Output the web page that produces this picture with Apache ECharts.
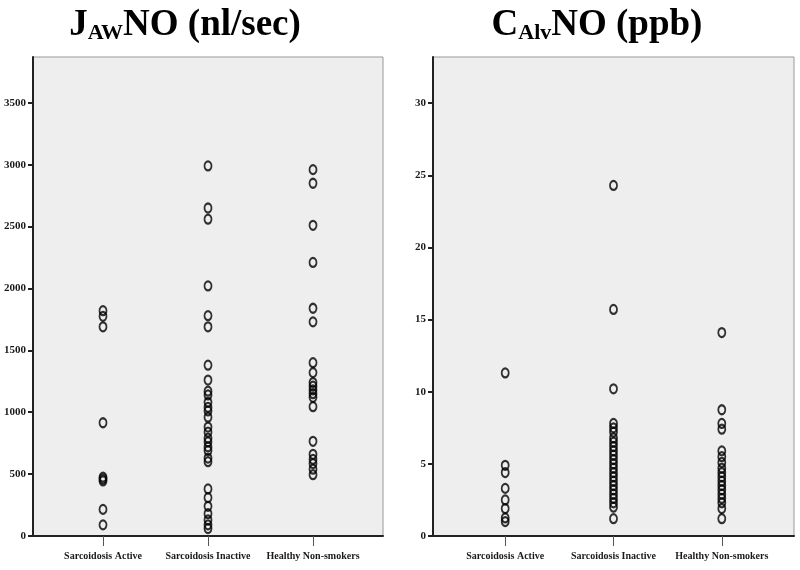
<!DOCTYPE html>
<html>
<head>
<meta charset="utf-8">
<script src="https://cdn.jsdelivr.net/npm/echarts@6/dist/echarts.min.js"></script>
<style>
html,body{margin:0;padding:0;background:#fff;}
#chart{width:800px;height:570px;}
</style>
</head>
<body>
<div id="chart"></div>
<script>
// ---------- data ----------
var categories = ['Sarcoidosis Active', 'Sarcoidosis Inactive', 'Healthy Non-smokers'];

var jawActive   = [1820, 1775, 1690, 915, 475, 460, 445, 215, 90];
var jawInactive = [2990, 2650, 2560, 2020, 1780, 1690, 1380, 1260, 1170, 1140, 1080, 1040, 1010, 960, 880, 840, 790, 760, 720, 690, 630, 600, 380, 310, 240, 180, 130, 90, 60];
var jawHealthy  = [2960, 2850, 2510, 2210, 1840, 1730, 1400, 1320, 1240, 1210, 1180, 1150, 1120, 1045, 765, 660, 620, 585, 540, 495];

var calvActive   = [11.3, 4.9, 4.4, 3.3, 2.5, 1.9, 1.25, 1.0];
var calvInactive = [24.3, 15.7, 10.2, 7.8, 7.5, 7.2, 6.8, 6.5, 6.2, 5.9, 5.6, 5.3, 5.0, 4.7, 4.4, 4.1, 3.8, 3.5, 3.2, 2.9, 2.6, 2.3, 2.0, 1.2];
var calvHealthy  = [14.1, 8.75, 7.8, 7.4, 5.9, 5.5, 5.1, 4.7, 4.4, 4.1, 3.8, 3.5, 3.2, 2.9, 2.6, 2.3, 1.9, 1.2];

var jawTicks  = [0, 500, 1000, 1500, 2000, 2500, 3000, 3500];
var calvTicks = [0, 5, 10, 15, 20, 25, 30];

// ---------- chart ----------
var FONT = 'Liberation Serif';
function pts(arr, idx) { return arr.map(function (v) { return [idx, v]; }); }

function xAxisFor(gi) {
  return {
    type: 'value', gridIndex: gi, min: 1/3, max: 11/3,
    splitLine: {show: false},
    axisLine: {show: true, onZero: false, lineStyle: {color: '#222', width: 2}},
    axisTick: {show: true, length: 10, customValues: [1, 2, 3], lineStyle: {color: '#555', width: 1}},
    axisLabel: {customValues: [1, 2, 3], margin: 15, color: '#1a1a1a', fontFamily: FONT, fontWeight: 'bold', fontSize: 10,
      formatter: function (v) { return categories[Math.round(v) - 1] || ''; }}
  };
}
function yAxisFor(gi, max, ticks) {
  return {
    type: 'value', gridIndex: gi, min: 0, max: max,
    splitLine: {show: false},
    axisLine: {show: true, onZero: false, lineStyle: {color: '#222', width: 2}},
    axisTick: {show: true, length: 5, customValues: ticks, lineStyle: {color: '#222', width: 2}},
    axisLabel: {customValues: ticks, margin: 7, color: '#1a1a1a', fontFamily: FONT, fontWeight: 'bold', fontSize: 11,
      formatter: function (v) { return String(v); }}
  };
}
function scat(gi, data) {
  return {
    type: 'scatter', xAxisIndex: gi, yAxisIndex: gi, data: data,
    symbol: 'circle', symbolSize: [7, 9],
    itemStyle: {color: 'rgba(0,0,0,0)', borderColor: '#000', borderWidth: 2},
    emphasis: {disabled: true}, silent: true
  };
}

var titleRich = {
  a: {fontFamily: FONT, fontWeight: 'bold', fontSize: 37, color: '#000', lineHeight: 44, verticalAlign: 'bottom'},
  b: {fontFamily: FONT, fontWeight: 'bold', fontSize: 22, color: '#000', lineHeight: 22, verticalAlign: 'bottom'}
};

var chart = echarts.init(document.getElementById('chart'), null, {renderer: 'canvas'});
chart.setOption({
  animation: false,
  backgroundColor: '#ffffff',
  title: [
    {text: '{a|J}{b|AW}{a|NO (nl/sec)}', left: 185, top: 0, textAlign: 'center', padding: 0, textStyle: {rich: titleRich}},
    {text: '{a|C}{b|Alv}{a|NO (ppb)}', left: 597, top: 0, textAlign: 'center', padding: 0, textStyle: {rich: titleRich}}
  ],
  grid: [
    {left: 33, top: 57, width: 350, bottom: 34, show: true, backgroundColor: '#eeeeee', borderColor: '#999', borderWidth: 1},
    {left: 433, top: 57, width: 361, bottom: 34, show: true, backgroundColor: '#eeeeee', borderColor: '#999', borderWidth: 1}
  ],
  xAxis: [xAxisFor(0), xAxisFor(1)],
  yAxis: [yAxisFor(0, 3870, jawTicks), yAxisFor(1, 33.2, calvTicks)],
  series: [
    scat(0, pts(jawActive, 1)), scat(0, pts(jawInactive, 2)), scat(0, pts(jawHealthy, 3)),
    scat(1, pts(calvActive, 1)), scat(1, pts(calvInactive, 2)), scat(1, pts(calvHealthy, 3))
  ]
});
</script>
</body>
</html>
